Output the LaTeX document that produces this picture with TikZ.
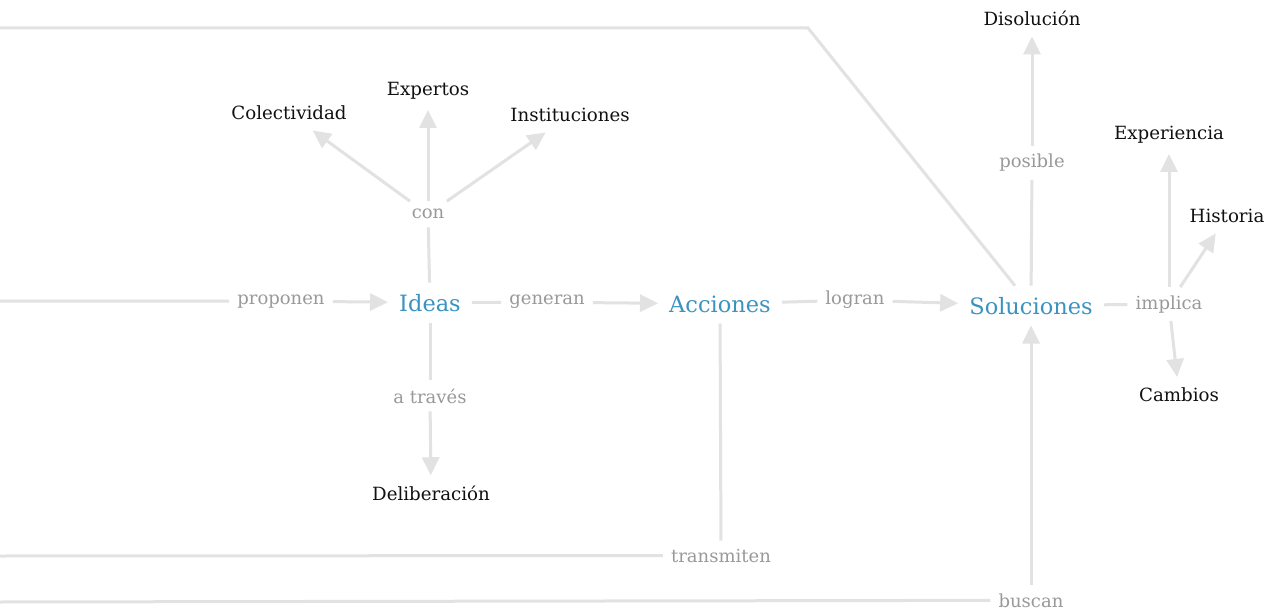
\documentclass[tikz,border=0pt]{standalone}
\usepackage{fontspec}
\setmainfont{DejaVu Serif}
\usetikzlibrary{arrows.meta}
\definecolor{edgec}{HTML}{E2E2E2}
\definecolor{labc}{HTML}{999999}
\definecolor{mainc}{HTML}{3A93C0}
\definecolor{inkc}{HTML}{111111}
\begin{document}
\begin{tikzpicture}[x=1pt,y=-1pt,
 mainnode/.style={font=\fontsize{22.5}{26}\selectfont, text=mainc, inner sep=11pt, anchor=base},
 concnode/.style={font=\fontsize{18.2}{21}\selectfont, text=inkc, inner sep=10pt, anchor=base},
 lblnode/.style={font=\fontsize{18}{21}\selectfont, text=labc, inner sep=8pt, anchor=base},
 ln/.style={draw=edgec, line width=3pt},
 ar/.style={ln, -{Triangle[length=18pt,width=17pt]}}]
\fill[white] (0,0) rectangle (1271,612);
\useasboundingbox (0,0) rectangle (1271,612);

% main concepts
\node[mainnode] (ideas) at (430,311) {Ideas};
\node[mainnode] (acc) at (720,312) {Acciones};
\node[mainnode] (sol) at (1031,314) {Soluciones};

% concepts
\node[concnode] (colect) at (289,120) {Colectividad};
\node[concnode] (expert) at (428,96) {Expertos};
\node[concnode] (instit) at (570,122) {Instituciones};
\node[concnode] (delib) at (431,500) {Deliberación};
\node[concnode] (disol) at (1032,26) {Disolución};
\node[concnode] (exper) at (1169,140) {Experiencia};
\node[concnode] (hist) at (1227,223) {Historia};
\node[concnode] (camb) at (1179,401) {Cambios};

% labels
\node[lblnode] (propon) at (281,304) {proponen};
\node[lblnode] (gener) at (547,305) {generan};
\node[lblnode] (logr) at (855,305) {logran};
\node[lblnode] (con) at (428,219) {con};
\node[lblnode] (atrav) at (430,403) {a través};
\node[lblnode] (transm) at (721,562) {transmiten};
\node[lblnode] (busc) at (1031,607) {buscan};
\node[lblnode] (posib) at (1032,168) {posible};
\node[lblnode] (impl) at (1169,309) {implica};

% off-picture ends
\coordinate (l1) at (0,301);
\coordinate (l2) at (0,556);
\coordinate (l3) at (0,602);
\coordinate (t0) at (0,28);
\coordinate (t1) at (808,28);

% connectors
\draw[ln] (l1) -- (propon);
\draw[ar] (propon) -- (ideas);
\draw[ln] (ideas) -- (gener);
\draw[ar] (gener) -- (acc);
\draw[ln] (acc) -- (logr);
\draw[ar] (logr) -- (sol);

\draw[ln] (ideas) -- (con);
\draw[ar] (con) -- (colect);
\draw[ar] (con) -- (expert);
\draw[ar] (con) -- (instit);
\draw[ln] (ideas) -- (atrav);
\draw[ar] (atrav) -- (delib);

\draw[ln] (acc) -- (transm);
\draw[ln] (l2) -- (transm);
\draw[ln] (l3) -- (busc);
\draw[ar] (busc) -- (sol);

\draw[ln] (sol) -- (posib);
\draw[ar] (posib) -- (disol);
\draw[ln] (t0) -- (t1) -- (sol);

\draw[ln] (sol) -- (impl);
\draw[ar] (impl) -- (exper);
\draw[ar] (impl) -- (hist);
\draw[ar] (impl) -- (camb);
\end{tikzpicture}
\end{document}
